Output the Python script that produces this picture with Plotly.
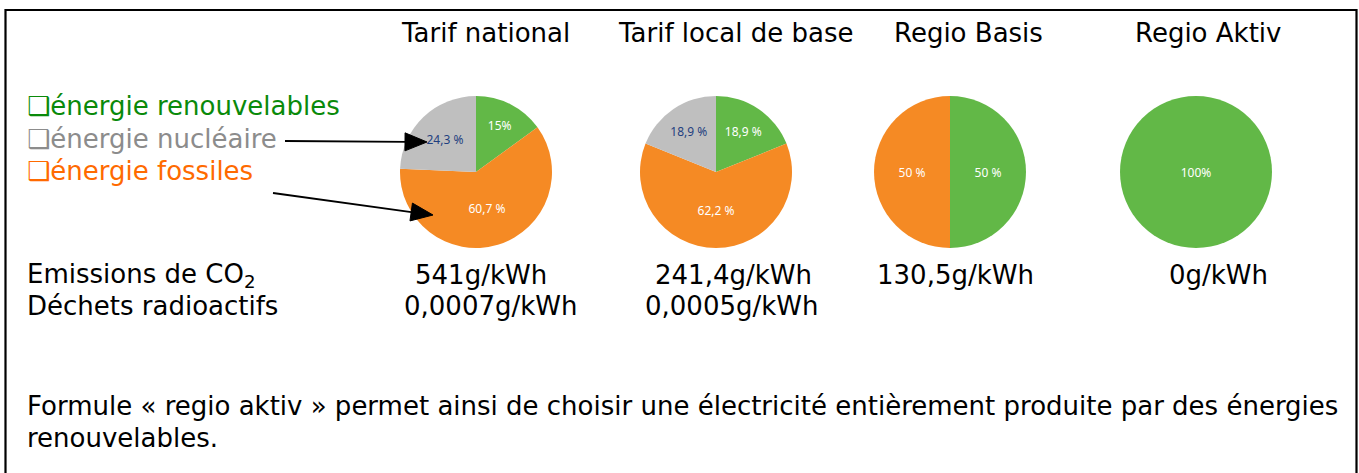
import math
import plotly.graph_objects as go

W, H = 1359, 473

# ---- data ----
tariffs = ["Tarif national", "Tarif local de base", "Regio Basis", "Regio Aktiv"]
sources = ["énergie renouvelables", "énergie nucléaire", "énergie fossiles"]
renouvelable = [15.0, 18.9, 50.0, 100.0]
nucleaire = [24.3, 18.9, 0.0, 0.0]
fossile = [60.7, 62.2, 50.0, 0.0]
labels_ren = ["15%", "18,9 %", "50 %", "100%"]
labels_nuc = ["24,3 %", "18,9 %", "", ""]
labels_fos = ["60,7 %", "62,2 %", "50 %", ""]
co2 = ["541g/kWh", "241,4g/kWh", "130,5g/kWh", "0g/kWh"]
dechets = ["0,0007g/kWh", "0,0005g/kWh", "", ""]
row_labels = ["Emissions de CO<sub>2</sub>", "Déchets radioactifs"]
conclusion = ["Formule « regio aktiv » permet ainsi de choisir une électricité entièrement produite par des énergies",
              "renouvelables."]

# ---- styles / layout ----
FONT = "DejaVu Sans, Arial, sans-serif"
FS = 26
C_GREEN, C_GRAY, C_ORANGE = "#62B847", "#BFBFBF", "#F58A24"
LEG_COLORS = ["#0A8A0A", "#8C8C8C", "#FF6A00"]
pie_cx = [476, 716, 950, 1196]
pie_cy = 172
pie_r = 76
title_cx = [485, 735, 968, 1208]
co2_cx = [481, 734, 955, 1218]
dech_cx = [491, 731, 0, 0]
row_y = [275, 306]


def px(x):
    return x / W


def py(y):
    return 1 - y / H


fig = go.Figure()
for i, t in enumerate(tariffs):
    vals, labs, cols, tcols = [], [], [], []
    for v, l, c, tc in [(renouvelable[i], labels_ren[i], C_GREEN, "white"),
                         (fossile[i], labels_fos[i], C_ORANGE, "white"),
                         (nucleaire[i], labels_nuc[i], C_GRAY, "#1F3F7F")]:
        if v > 0:
            vals.append(v)
            labs.append(l)
            cols.append(c)
            tcols.append(tc)
    fig.add_trace(go.Pie(
        values=vals, text=labs, textinfo="text", textposition="inside",
        insidetextorientation="horizontal",
        marker=dict(colors=cols, line=dict(width=0)),
        textfont=dict(color=tcols, size=12, family="Noto Sans, sans-serif"),
        sort=False, direction="clockwise", rotation=0, showlegend=False,
        hoverinfo="skip",
        domain=dict(x=[px(pie_cx[i] - pie_r), px(pie_cx[i] + pie_r)],
                    y=[py(pie_cy + pie_r), py(pie_cy - pie_r)]),
    ))

ann = []


def text_ann(x, y, txt, color="black", anchor="center"):
    ann.append(dict(x=px(x), y=py(y), text=txt, showarrow=False,
                    xref="paper", yref="paper",
                    xanchor=anchor, yanchor="middle", borderpad=0,
                    font=dict(size=FS, color=color, family=FONT)))


for i, t in enumerate(tariffs):
    text_ann(title_cx[i], 33, t)
    text_ann(co2_cx[i], row_y[0], co2[i])
    if dechets[i]:
        text_ann(dech_cx[i], row_y[1], dechets[i])

leg_y = [106, 139, 171]
for s, c, yy in zip(sources, LEG_COLORS, leg_y):
    text_ann(26, yy, "\u2751" + s, color=c, anchor="left")

for lab, yy in zip(row_labels, row_y):
    text_ann(26, yy, lab, anchor="left")
for line, yy in zip(conclusion, [406, 438]):
    text_ann(26, yy, line, anchor="left")

# arrows drawn as shapes (line + filled head)
shapes = [dict(type="rect", xref="paper", yref="paper",
               x0=px(5.5), x1=px(1356.5), y0=py(490), y1=py(10),
               line=dict(color="black", width=2.2), fillcolor="rgba(0,0,0,0)")]
arrows = [((285, 141), (427, 142)), ((273, 193), (433, 215))]
for (x0, y0), (x1, y1) in arrows:
    dx, dy = x1 - x0, y1 - y0
    L = math.hypot(dx, dy)
    ux, uy = dx / L, dy / L
    nx, ny = -uy, ux
    hl, hw = 22, 9
    bx, by = x1 - hl * ux, y1 - hl * uy
    shapes.append(dict(type="line", xref="paper", yref="paper",
                       x0=px(x0), y0=py(y0), x1=px(bx + 2 * ux), y1=py(by + 2 * uy),
                       line=dict(color="black", width=1.8)))
    path = "M {:.5f},{:.5f} L {:.5f},{:.5f} L {:.5f},{:.5f} Z".format(
        px(x1), py(y1), px(bx + hw * nx), py(by + hw * ny), px(bx - hw * nx), py(by - hw * ny))
    shapes.append(dict(type="path", xref="paper", yref="paper", path=path,
                       fillcolor="black", line=dict(color="black", width=1)))

fig.update_layout(
    width=W, height=H, margin=dict(l=0, r=0, t=0, b=0),
    paper_bgcolor="white", plot_bgcolor="white",
    annotations=ann, shapes=shapes,
)

fig.write_html("out.html", config={"displayModeBar": False},
               post_script="document.body.style.margin='0';document.body.style.overflow='hidden';")
